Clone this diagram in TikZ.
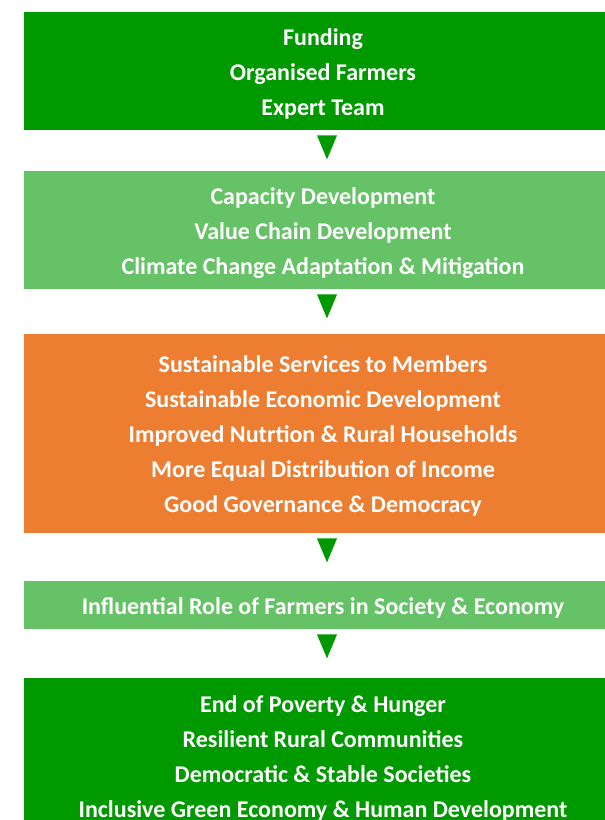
\documentclass[tikz,border=0pt]{standalone}
\usepackage{fontspec}
\setmainfont{Carlito}
\usetikzlibrary{calc}
\definecolor{dgreen}{HTML}{009900}
\definecolor{lgreen}{HTML}{66C266}
\definecolor{orng}{HTML}{ED7D31}
\tikzset{
  stage/.style={anchor=north, minimum width=598pt, inner sep=0pt},
  label text/.style={inner sep=0pt, text=white, align=center,
    font=\fontsize{24}{35}\selectfont\bfseries},
  tri/.style={fill=dgreen}
}
\begin{document}
\begin{tikzpicture}[x=1pt,y=-1pt]
\useasboundingbox (0,0) rectangle (605,820);
\clip (0,0) rectangle (605,820);
\node[stage, fill=dgreen, minimum height=118pt] (b1) at (323,12) {};
\node[stage, fill=lgreen, minimum height=118pt] (b2) at (323,171) {};
\node[stage, fill=orng, minimum height=199pt] (b3) at (323,334) {};
\node[stage, fill=lgreen, minimum height=48pt] (b4) at (323,581) {};
\node[stage, fill=dgreen, minimum height=158pt] (b5) at (323,678) {};
\node[label text, yshift=-2.5pt] (t1) at (b1.center)
  {Funding\\Organised Farmers\\Expert Team};
\node[label text, yshift=-2.5pt] (t2) at (b2.center)
  {Capacity Development\\Value Chain Development\\Climate Change Adaptation \& Mitigation};
\node[label text, yshift=-2.5pt] (t3) at (b3.center)
  {Sustainable Services to Members\\Sustainable Economic Development\\Improved Nutrtion \& Rural Households\\More Equal Distribution of Income\\Good Governance \& Democracy};
\node[label text, yshift=-3pt] (t4) at (b4.center)
  {Influential Role of Farmers in Society \& Economy};
\node[label text, yshift=-1.5pt] (t5) at (b5.center)
  {End of Poverty \& Hunger\\Resilient Rural Communities\\Democratic \& Stable Societies\\Inclusive Green Economy \& Human Development};
\foreach \n in {b1,b2,b3,b4}{
  \fill[tri] ($(\n.south)+(-6,5)$) -- ($(\n.south)+(14,5)$) -- ($(\n.south)+(4,29)$) -- cycle;
}
\end{tikzpicture}
\end{document}
